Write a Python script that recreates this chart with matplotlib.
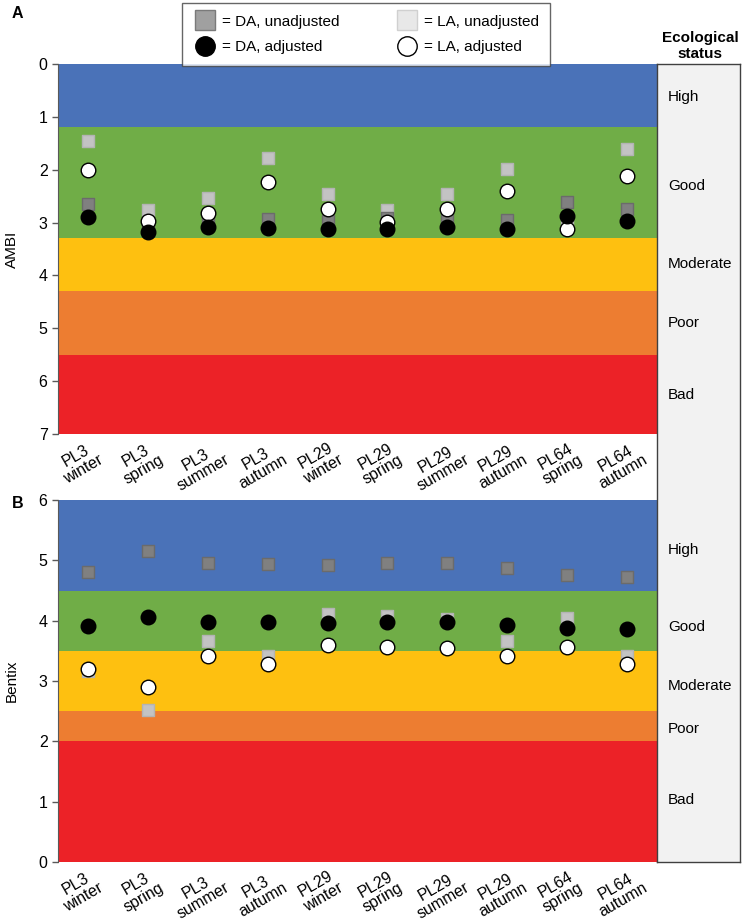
import matplotlib
matplotlib.use("Agg")
import matplotlib.pyplot as plt
from matplotlib.lines import Line2D
import numpy as np

plt.rcParams['font.family'] = ['Liberation Sans', 'DejaVu Sans']

categories = ["PL3\nwinter", "PL3\nspring", "PL3\nsummer", "PL3\nautumn", "PL29\nwinter",
              "PL29\nspring", "PL29\nsummer", "PL29\nautumn", "PL64\nspring", "PL64\nautumn"]

# AMBI (panel A)
ambi_da_unadj = [2.65, 3.10, 2.92, 2.93, 2.97, 2.92, 2.90, 2.95, 2.61, 2.75]
ambi_la_unadj = [1.45, 2.76, 2.53, 1.77, 2.45, 2.77, 2.46, 1.99, 3.02, 1.61]
ambi_da_adj   = [2.90, 3.18, 3.08, 3.11, 3.13, 3.13, 3.09, 3.13, 2.87, 2.97]
ambi_la_adj   = [2.00, 2.97, 2.81, 2.23, 2.75, 2.99, 2.75, 2.40, 3.13, 2.11]

# Bentix (panel B)
bentix_da_unadj = [4.81, 5.15, 4.96, 4.94, 4.92, 4.96, 4.96, 4.87, 4.75, 4.72]
bentix_la_unadj = [3.17, 2.52, 3.67, 3.42, 4.11, 4.07, 4.03, 3.67, 4.04, 3.41]
bentix_da_adj   = [3.91, 4.06, 3.97, 3.97, 3.96, 3.97, 3.98, 3.93, 3.88, 3.86]
bentix_la_adj   = [3.20, 2.90, 3.41, 3.28, 3.60, 3.56, 3.55, 3.41, 3.56, 3.28]

status_labels = ["High", "Good", "Moderate", "Poor", "Bad"]
ambi_bounds = [0, 1.2, 3.3, 4.3, 5.5, 7]
bentix_bounds = [6, 4.5, 3.5, 2.5, 2, 0]
band_colors = ["#4A72B8", "#70AD47", "#FEC010", "#ED7D31", "#EC2227"]

C_DA_U = "#808080"; E_DA_U = "#6B6B6B"
C_LA_U = "#C3C3C3"; E_LA_U = "#B3B3B3"

fig = plt.figure(figsize=(7.43, 9.23), dpi=100)
W, H = 743, 923

def frac(x0, y0, x1, y1):
    return [x0 / W, 1 - y1 / H, (x1 - x0) / W, (y1 - y0) / H]

axA = fig.add_axes(frac(58, 64, 657, 434))
axB = fig.add_axes(frac(58, 500, 657, 862))
axS = fig.add_axes(frac(657, 64, 740, 862))

x = np.arange(len(categories))

def draw(ax, bounds, da_u, la_u, da_a, la_a, ylim, yticks):
    for i in range(5):
        lo, hi = sorted([bounds[i], bounds[i + 1]])
        ax.axhspan(lo, hi, color=band_colors[i], lw=0, zorder=0)
    ax.scatter(x, la_u, marker='s', s=85, c=C_LA_U, edgecolors=E_LA_U, linewidths=1, zorder=3)
    ax.scatter(x, da_u, marker='s', s=85, c=C_DA_U, edgecolors=E_DA_U, linewidths=1, zorder=3)
    ax.scatter(x, la_a, marker='o', s=110, c='white', edgecolors='black', linewidths=1, zorder=4)
    ax.scatter(x, da_a, marker='o', s=110, c='black', edgecolors='black', linewidths=1, zorder=5)
    ax.set_xlim(-0.5, len(categories) - 0.5)
    ax.set_ylim(*ylim)
    ax.set_yticks(yticks)
    ax.set_xticks([])
    for i, cat in enumerate(categories):
        ax.annotate(cat, xy=(x[i], 0), xycoords=('data', 'axes fraction'),
                    xytext=(-8, -5), textcoords='offset pixels',
                    rotation=30, ha='center', va='top', fontsize=11.5, linespacing=1.0,
                    annotation_clip=False)
    ax.tick_params(axis='y', labelsize=11.5, length=4, color='#595959', width=1)
    for s in ['top', 'right', 'bottom']:
        ax.spines[s].set_visible(False)
    ax.spines['left'].set_color('#595959')

draw(axA, ambi_bounds, ambi_da_unadj, ambi_la_unadj, ambi_da_adj, ambi_la_adj, (7, 0), range(0, 8))
draw(axB, bentix_bounds, bentix_da_unadj, bentix_la_unadj, bentix_da_adj, bentix_la_adj, (0, 6), range(0, 7))
axA.set_ylabel("AMBI", fontsize=11, va='center')
axB.set_ylabel("Bentix", fontsize=11, va='center')
axA.yaxis.set_label_coords(-46 / 599, 0.5)
axB.yaxis.set_label_coords(-46 / 599, 0.5)

# status panel
axS.set_facecolor("#F2F2F2")
axS.set_xlim(0, 1)
axS.set_ylim(923 - 862, 923 - 64)
axS.set_xticks([]); axS.set_yticks([])
for s in axS.spines.values():
    s.set_color('#404040'); s.set_linewidth(1)
status_y_px = [97, 186, 264, 323, 395, 550, 627, 686, 729, 800]
for lab, ypx in zip(status_labels * 2, status_y_px):
    axS.text(0.13, 923 - ypx, lab, fontsize=11, va='center', ha='left')

fig.text(700 / W, 1 - 46 / H, "Ecological\nstatus", fontsize=11, fontweight='bold',
         ha='center', va='center', linespacing=1.1)
fig.text(12 / W, 1 - 13 / H, "A", fontsize=11.5, fontweight='bold', ha='left', va='center')
fig.text(12 / W, 1 - 503 / H, "B", fontsize=11.5, fontweight='bold', ha='left', va='center')

handles = [
    Line2D([], [], ls='', marker='s', ms=14, mfc="#A0A0A0", mec="#7A7A7A", mew=1),
    Line2D([], [], ls='', marker='o', ms=14, mfc="black", mec="black"),
    Line2D([], [], ls='', marker='s', ms=14, mfc="#E8E8E8", mec="#D0D0D0", mew=1),
    Line2D([], [], ls='', marker='o', ms=14, mfc="white", mec="black", mew=1),
]
labels = ["= DA, unadjusted", "= DA, adjusted", "= LA, unadjusted", "= LA, adjusted"]
leg = fig.legend(handles, labels, ncol=2, loc='center', bbox_to_anchor=(366 / W, 1 - 34.5 / H),
                 fontsize=11, frameon=True, fancybox=False, edgecolor='#404040',
                 handletextpad=0.3, columnspacing=3.6, labelspacing=0.75, borderpad=0.75,
                 borderaxespad=0, handlelength=1.6)
leg.get_frame().set_linewidth(1)

fig.savefig("out.png", dpi=100)
